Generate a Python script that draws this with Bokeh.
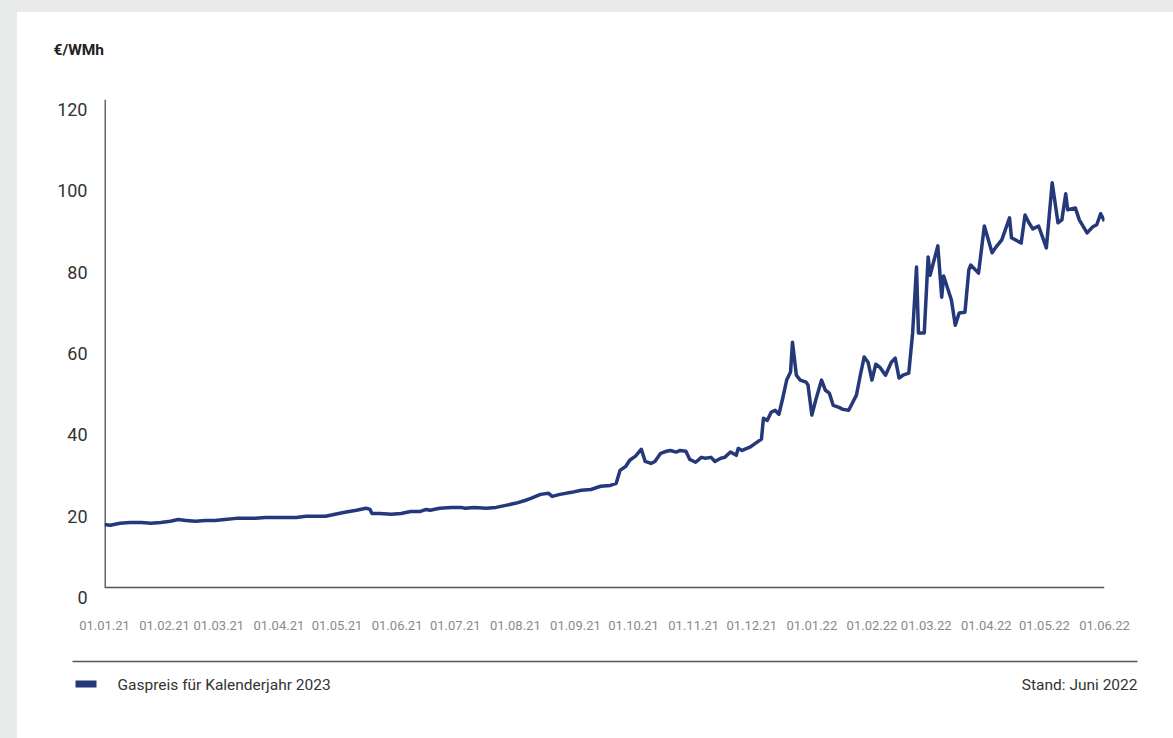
import pandas as pd
from bokeh.plotting import figure
from bokeh.models import ColumnDataSource, Range1d, FixedTicker, LinearAxis
from bokeh.embed import file_html
from bokeh.resources import INLINE
from bokeh.core.properties import value

# ---------------- data ----------------
DATES = [
    "2021-01-01", "2021-01-04", "2021-01-09", "2021-01-14", "2021-01-20", "2021-01-25", "2021-01-30",
    "2021-02-04", "2021-02-08", "2021-02-12", "2021-02-17", "2021-02-22", "2021-02-27",
    "2021-03-04", "2021-03-10", "2021-03-15", "2021-03-20", "2021-03-25", "2021-03-30",
    "2021-04-04", "2021-04-10", "2021-04-15", "2021-04-20", "2021-04-25", "2021-04-30",
    "2021-05-05", "2021-05-11", "2021-05-16", "2021-05-18", "2021-05-19", "2021-05-23", "2021-05-29",
    "2021-06-03", "2021-06-08", "2021-06-13", "2021-06-16", "2021-06-18", "2021-06-23", "2021-06-29",
    "2021-07-04", "2021-07-06", "2021-07-11", "2021-07-17", "2021-07-22", "2021-07-27",
    "2021-08-01", "2021-08-06", "2021-08-09", "2021-08-14", "2021-08-18", "2021-08-20", "2021-08-24", "2021-08-30",
    "2021-09-04", "2021-09-09", "2021-09-14", "2021-09-19", "2021-09-22", "2021-09-24", "2021-09-27", "2021-09-29",
    "2021-10-02", "2021-10-05", "2021-10-07", "2021-10-10", "2021-10-12", "2021-10-15", "2021-10-18",
    "2021-10-20", "2021-10-23", "2021-10-25", "2021-10-28", "2021-10-30",
    "2021-11-02", "2021-11-05", "2021-11-07", "2021-11-10", "2021-11-12", "2021-11-15", "2021-11-17",
    "2021-11-20", "2021-11-23", "2021-11-24", "2021-11-26", "2021-11-30",
    "2021-12-03", "2021-12-06", "2021-12-07", "2021-12-09", "2021-12-11", "2021-12-13", "2021-12-15",
    "2021-12-17", "2021-12-19", "2021-12-21", "2021-12-22", "2021-12-24", "2021-12-26", "2021-12-29", "2021-12-30",
    "2022-01-01", "2022-01-03", "2022-01-06", "2022-01-08", "2022-01-10", "2022-01-12", "2022-01-15",
    "2022-01-17", "2022-01-20", "2022-01-24", "2022-01-26", "2022-01-28", "2022-01-30",
    "2022-02-01", "2022-02-03", "2022-02-05", "2022-02-08", "2022-02-11", "2022-02-13", "2022-02-15",
    "2022-02-17", "2022-02-20", "2022-02-22", "2022-02-24", "2022-02-25", "2022-02-28",
    "2022-03-02", "2022-03-03", "2022-03-07", "2022-03-09", "2022-03-10", "2022-03-14", "2022-03-16",
    "2022-03-18", "2022-03-21", "2022-03-23", "2022-03-24", "2022-03-28", "2022-03-31",
    "2022-04-04", "2022-04-06", "2022-04-09", "2022-04-13", "2022-04-14", "2022-04-19", "2022-04-21",
    "2022-04-23", "2022-04-25", "2022-04-28",
    "2022-05-02", "2022-05-05", "2022-05-08", "2022-05-10", "2022-05-12", "2022-05-13", "2022-05-17",
    "2022-05-19", "2022-05-23", "2022-05-26", "2022-05-28", "2022-05-30",
    "2022-06-01",
]

PRICES = [
    15.5, 15.3, 15.8, 16.0, 16.0, 15.8, 16.0,
    16.3, 16.7, 16.5, 16.3, 16.5, 16.5,
    16.7, 17.0, 17.0, 17.0, 17.2, 17.2,
    17.2, 17.2, 17.5, 17.5, 17.5, 18.0,
    18.5, 19.0, 19.5, 19.2, 18.2, 18.2, 18.0,
    18.2, 18.7, 18.7, 19.2, 19.0, 19.5, 19.7,
    19.7, 19.5, 19.7, 19.5, 19.7, 20.2,
    20.7, 21.4, 21.9, 22.9, 23.2, 22.4, 22.9, 23.4,
    23.9, 24.1, 24.9, 25.1, 25.6, 28.8, 29.8, 31.3,
    32.3, 34.0, 31.0, 30.5, 31.0, 33.0, 33.5, 33.7, 33.3, 33.7, 33.5, 31.5,
    30.8, 32.0, 31.8, 32.0, 31.0, 31.8, 32.0, 33.3, 32.5, 34.2, 33.7, 34.5,
    35.5, 36.5, 41.6, 41.1, 43.1, 43.6, 42.6, 46.6, 51.0, 53.0, 60.3, 52.2, 51.0, 50.5, 49.8,
    42.4, 46.1, 51.0, 48.5, 47.8, 44.8, 44.3, 43.8, 43.6, 47.3, 52.2, 56.7, 55.4,
    51.0, 54.9, 54.2, 52.2, 55.4, 56.4, 51.5, 52.2, 52.7, 62.6, 78.8, 62.6, 62.6,
    81.3, 76.8, 84.0, 71.4, 76.6, 70.7, 64.5, 67.5, 67.7, 78.1, 79.3, 77.3, 88.9,
    82.3, 83.7, 85.5, 90.9, 86.0, 84.7, 91.6, 89.7, 88.2, 88.9,
    83.5, 99.5, 89.7, 90.4, 96.8, 92.9, 93.3, 90.4, 87.2, 88.7, 89.2, 91.9,
    90.1,
]

X_TICK_LABELS = [
    "01.01.21", "01.02.21", "01.03.21", "01.04.21", "01.05.21", "01.06.21",
    "01.07.21", "01.08.21", "01.09.21", "01.10.21", "01.11.21", "01.12.21",
    "01.01.22", "01.02.22", "01.03.22", "01.04.22", "01.05.22", "01.06.22",
]
Y_TICKS = [0, 20, 40, 60, 80, 100, 120]
UNIT = "€/WMh"
SERIES_NAME = "Gaspreis für Kalenderjahr 2023"
NOTE = "Stand: Juni 2022"

LINE_COLOR = "#24387a"
AXIS_COLOR = "#666666"
FONT = "Roboto"

# ---------------- build ----------------
dates = pd.to_datetime(DATES)
tick_dates = pd.to_datetime(X_TICK_LABELS, format="%d.%m.%y")
epoch = pd.Timestamp("1970-01-01")
tick_ms = [int((t - epoch) // pd.Timedelta("1ms")) for t in tick_dates]

FIG_W = 1156
TOP_H, MAIN_H, FOOT_H = 87, 553, 86

Y0, Y1 = Y_TICKS[0], Y_TICKS[-1]
PX_PER_UNIT = 488 / (Y1 - Y0)
LABEL_DROP_PX = 10                       # tick labels sit 10px below their value
shift = LABEL_DROP_PX / PX_PER_UNIT
FRAME_H = 488 + LABEL_DROP_PX


def strip(height):
    f = figure(width=FIG_W, height=height, x_range=Range1d(0, FIG_W), y_range=Range1d(height, 0),
               output_backend="svg", toolbar_location=None,
               x_axis_location=None, y_axis_location=None, min_border=0)
    f.outline_line_color = None
    f.grid.visible = False
    f.background_fill_color = None
    f.border_fill_color = None
    f.styles = {"background-color": "white"}
    return f


# ---- top strip: unit ----
top = strip(TOP_H)
top.text(x=[36], y=[37], text=[UNIT], text_baseline="middle", text_align="left",
         text_font=value(FONT), text_font_size="15.5px", text_font_style="bold",
         text_color="#222222")

# ---- main chart ----
p = figure(
    width=FIG_W, height=MAIN_H,
    x_axis_type="datetime",
    x_range=Range1d(tick_ms[0], tick_ms[-1]),
    y_range=Range1d(Y0 - shift, Y1),
    y_axis_location=None,
    output_backend="svg", toolbar_location=None,
    min_border_left=87, min_border_right=69, min_border_top=0,
    min_border_bottom=MAIN_H - FRAME_H,
)
p.background_fill_color = None
p.border_fill_color = None
p.styles = {"background-color": "white"}
p.outline_line_color = None
p.grid.visible = False

# axis lines at x = start and y = 0
p.segment(x0=[tick_ms[0]], y0=[Y0], x1=[tick_ms[0]], y1=[Y1],
          line_color=AXIS_COLOR, line_width=3)
p.segment(x0=[tick_ms[0]], y0=[Y0], x1=[tick_ms[-1]], y1=[Y0],
          line_color="#555555", line_width=1.5)

src = ColumnDataSource(dict(date=dates, price=PRICES))
p.line(x="date", y="price", source=src, line_color=LINE_COLOR, line_width=3.5,
       line_join="round")

# x axis (labels only)
xa = p.xaxis[0]
xa.ticker = FixedTicker(ticks=tick_ms)
xa.major_label_overrides = {ms: lab for ms, lab in zip(tick_ms, X_TICK_LABELS)}
xa.major_tick_line_color = None
xa.minor_tick_line_color = None
xa.major_tick_out = 0
xa.minor_tick_out = 0
xa.axis_line_color = None
xa.major_label_text_font = FONT
xa.major_label_text_font_size = "13px"
xa.major_label_text_color = "#8a8a8a"
xa.major_label_standoff = 23

# y axis with labels slightly below their values (range shifted by LABEL_DROP_PX)
p.extra_y_ranges = {"ylab": Range1d(Y0, Y1 + shift)}
lab_axis = LinearAxis(
    y_range_name="ylab",
    ticker=FixedTicker(ticks=Y_TICKS),
    axis_line_color=None, major_tick_line_color=None, minor_tick_line_color=None,
    major_tick_out=0, major_tick_in=0, minor_tick_out=0, minor_tick_in=0,
    major_label_standoff=17,
    major_label_text_font=FONT, major_label_text_font_size="18px",
    major_label_text_color="#333333",
)
p.add_layout(lab_axis, "left")

# ---- footer strip: legend and note ----
lg = strip(FOOT_H)
lg.segment(x0=[55], y0=[9], x1=[1120], y1=[9], line_color="#555555", line_width=1.5)
lg.quad(left=[58], right=[79], top=[28], bottom=[35], fill_color=LINE_COLOR, line_color=None)
lg.text(x=[100], y=[32], text=[SERIES_NAME], text_baseline="middle", text_align="left",
        text_font=value(FONT), text_font_size="15.5px", text_color="#333333")
lg.text(x=[1120], y=[32], text=[NOTE], text_baseline="middle", text_align="right",
        text_font=value(FONT), text_font_size="15.5px", text_color="#333333")

TEMPLATE = """
{% block postamble %}
<style>
html, body { background: #e9ebea !important; overflow: hidden !important; }
body { margin: 12px 0 0 17px !important; padding: 0 !important; line-height: 0; font-size: 0; }
</style>
{% endblock %}
"""

open("out.html", "w").write(file_html([top, p, lg], INLINE, title="Gaspreis", template=TEMPLATE))
